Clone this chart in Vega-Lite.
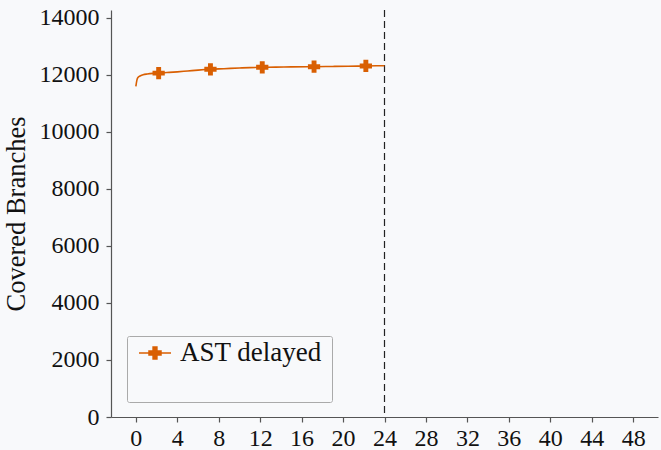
{
  "$schema": "https://vega.github.io/schema/vega-lite/v6.json",
  "width": 547,
  "height": 407,
  "autosize": {"type": "none"},
  "padding": {"left": 111, "top": 10, "right": 3, "bottom": 33},
  "background": "#f8f9fb",
  "config": {
    "view": {"stroke": null},
    "font": "Liberation Serif, serif",
    "axis": {
      "grid": false,
      "domainColor": "#555555",
      "domainWidth": 1.2,
      "tickColor": "#555555",
      "tickSize": 5,
      "tickWidth": 1.2,
      "labelFont": "Liberation Serif, serif",
      "labelFontSize": 24,
      "labelColor": "#111111",
      "titleFont": "Liberation Serif, serif",
      "titleFontSize": 26.5,
      "titleFontWeight": "normal",
      "titleColor": "#111111"
    }
  },
  "datasets": {
    "curve": [
      {"t": 0, "branches": 11600, "series": "AST delayed"},
      {"t": 0.1, "branches": 11820, "series": "AST delayed"},
      {"t": 0.22, "branches": 11920, "series": "AST delayed"},
      {"t": 0.45, "branches": 11975, "series": "AST delayed"},
      {"t": 0.7, "branches": 12010, "series": "AST delayed"},
      {"t": 1.1, "branches": 12035, "series": "AST delayed"},
      {"t": 1.67, "branches": 12055, "series": "AST delayed"},
      {"t": 2.2, "branches": 12065, "series": "AST delayed"},
      {"t": 3, "branches": 12085, "series": "AST delayed"},
      {"t": 4, "branches": 12110, "series": "AST delayed"},
      {"t": 5, "branches": 12140, "series": "AST delayed"},
      {"t": 6, "branches": 12170, "series": "AST delayed"},
      {"t": 7.2, "branches": 12200, "series": "AST delayed"},
      {"t": 8.5, "branches": 12220, "series": "AST delayed"},
      {"t": 10, "branches": 12245, "series": "AST delayed"},
      {"t": 11, "branches": 12258, "series": "AST delayed"},
      {"t": 12.2, "branches": 12270, "series": "AST delayed"},
      {"t": 13.5, "branches": 12277, "series": "AST delayed"},
      {"t": 15, "branches": 12283, "series": "AST delayed"},
      {"t": 17.2, "branches": 12290, "series": "AST delayed"},
      {"t": 19, "branches": 12300, "series": "AST delayed"},
      {"t": 20.5, "branches": 12308, "series": "AST delayed"},
      {"t": 22.2, "branches": 12316, "series": "AST delayed"},
      {"t": 23.2, "branches": 12322, "series": "AST delayed"},
      {"t": 24, "branches": 12326, "series": "AST delayed"}
    ],
    "markers": [
      {"t": 2.2, "branches": 12065},
      {"t": 7.2, "branches": 12200},
      {"t": 12.2, "branches": 12270},
      {"t": 17.2, "branches": 12290},
      {"t": 22.2, "branches": 12316}
    ],
    "cutoff": [{"t": 24}]
  },
  "layer": [
    {
      "data": {"name": "cutoff"},
      "mark": {"type": "rule", "color": "#222222", "strokeWidth": 1.2, "strokeDash": [7, 4]},
      "encoding": {
        "x": {"field": "t", "type": "quantitative", "scale": {"domain": [-2.4, 50.4], "nice": false, "zero": false}}
      }
    },
    {
      "data": {"name": "curve"},
      "mark": {"type": "line", "strokeWidth": 1.6, "interpolate": "monotone"},
      "encoding": {
        "x": {
          "field": "t", "type": "quantitative",
          "scale": {"domain": [-2.4, 50.4], "nice": false, "zero": false},
          "axis": {"values": [0, 4, 8, 12, 16, 20, 24, 28, 32, 36, 40, 44, 48], "title": null, "labelPadding": 4, "labelFlush": false}
        },
        "y": {
          "field": "branches", "type": "quantitative",
          "scale": {"domain": [0, 14280], "nice": false},
          "axis": {"values": [0, 2000, 4000, 6000, 8000, 10000, 12000, 14000], "title": "Covered Branches", "labelPadding": 7, "titlePadding": 9, "format": "d", "labelFlush": false}
        },
        "color": {
          "field": "series", "type": "nominal",
          "scale": {"domain": ["AST delayed"], "range": ["#d95f02"]},
          "legend": {
            "title": " ",
            "titleOrient": "bottom",
            "titleFontSize": 22,
            "titlePadding": 5,
            "orient": "none",
            "legendX": 16,
            "legendY": 326,
            "padding": 10,
            "clipHeight": 14,
            "symbolType": "M-1,0L-0.14,0M0.14,0L1,0M-0.375,-0.12L-0.12,-0.12L-0.12,-0.375L0.12,-0.375L0.12,-0.12L0.375,-0.12L0.375,0.12L0.12,0.12L0.12,0.375L-0.12,0.375L-0.12,0.12L-0.375,0.12Z",
            "symbolSize": 1024,
            "symbolStrokeWidth": 1.5,
            "symbolFillColor": "#d95f02",
            "symbolStrokeColor": "#e07a30",
            "symbolOffset": 1,
            "labelOffset": 8,
            "labelFontSize": 27,
            "labelFont": "Liberation Serif, serif",
            "labelColor": "#111111",
            "strokeColor": "#aaaaaa",
            "fillColor": "#f8f9fb",
            "cornerRadius": 2
          }
        }
      }
    },
    {
      "data": {"name": "markers"},
      "mark": {"type": "point", "shape": "cross", "filled": true, "size": 150, "color": "#d95f02", "opacity": 1},
      "encoding": {
        "x": {"field": "t", "type": "quantitative"},
        "y": {"field": "branches", "type": "quantitative"}
      }
    }
  ]
}
